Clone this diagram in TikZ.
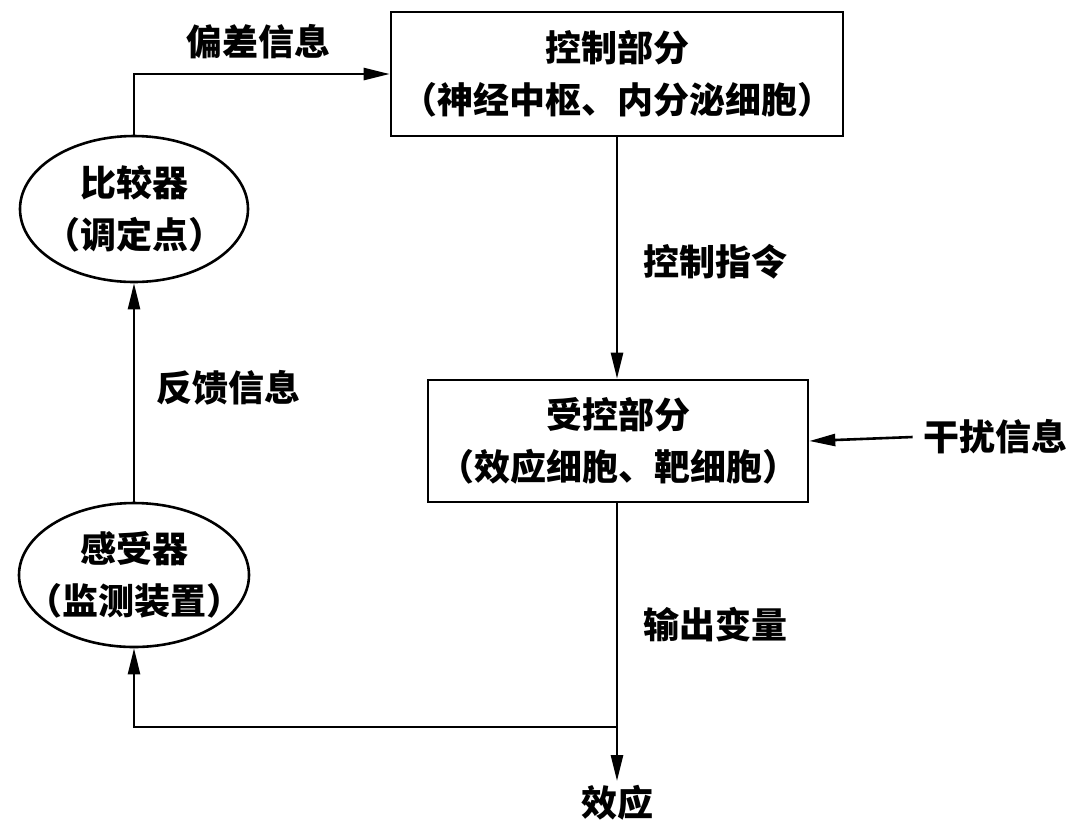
\documentclass[tikz,border=0pt]{standalone}
\usepackage{fontspec}
\newfontfamily\cjk{Noto Sans CJK SC}
\usetikzlibrary{arrows.meta, positioning, shapes.geometric}

\begin{document}
\begin{tikzpicture}[
    x=0.5pt, y=-0.5pt,
    box/.style = {draw, line width=1.3pt, align=center, inner sep=0pt},
    oval/.style = {ellipse, draw, line width=1.3pt, inner sep=0pt},
    lbl/.style = {inner sep=2pt},
    arrow/.style = {-{Triangle[length=13pt, width=6pt]}, line width=1.3pt},
    every node/.style={font=\cjk\bfseries\fontsize{18}{26}\selectfont}
  ]
  \useasboundingbox (0,0) rectangle (1080,832);

  % Control part and controlled part
  \node[box, minimum width=226pt, minimum height=62pt] (ctrl) at (617,74)
    {控制部分\\（神经中枢、内分泌细胞）};
  \node[box, minimum width=190pt, minimum height=61pt] (effector) at (618,441)
    {受控部分\\（效应细胞、靶细胞）};

  % Comparator and sensor
  \node[oval, minimum width=114pt, minimum height=73pt,
    label={[align=center]center:{比较器\\（调定点）}}] (cmp) at (134,209) {};
  \node[oval, minimum width=115pt, minimum height=72pt,
    label={[align=center]center:{感受器\\（监测装置）}}] (sensor) at (134,575) {};

  % Labels
  \node[lbl] (dev) at (258,42) {偏差信息};
  \node[lbl] (cmd) at (715,262) {控制指令};
  \node[lbl] (fbk) at (228,388) {反馈信息};
  \node[lbl] (disturb) at (995,437) {干扰信息};
  \node[lbl] (outv) at (715,625) {输出变量};
  \node[lbl] (effect) at (617,803) {效应};
  \coordinate (fb) at (617,727);

  % Arrows
  \draw[arrow] (cmp.north) |- (ctrl.west);
  \draw[arrow] (ctrl.south) -- (ctrl.south |- effector.north);
  \draw[arrow] (disturb.west) ++(-6,0) -- (effector.east);
  \draw[arrow] (effector.south -| fb) -- (effect.north);
  \draw[arrow] (fb) -| (sensor.south);
  \draw[arrow] (sensor.north) -- (cmp.south);

\end{tikzpicture}
\end{document}
